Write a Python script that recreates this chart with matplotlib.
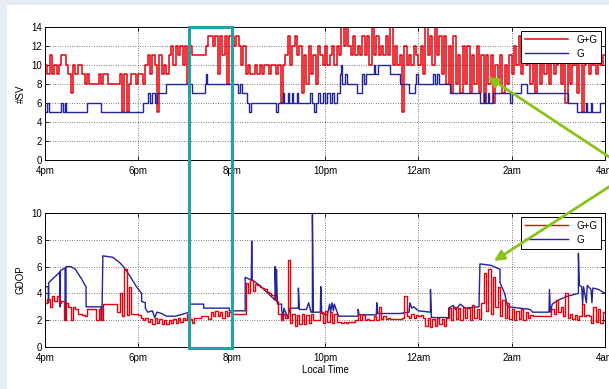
import numpy as np
import matplotlib
matplotlib.use("Agg")
import matplotlib.pyplot as plt
from matplotlib.patches import Rectangle, FancyArrowPatch

plt.rcParams["font.family"] = ["Liberation Sans", "DejaVu Sans"]

# time axis: hours after 4pm, red series sampled every 3 minutes
hour_ticks = [0, 2, 4, 6, 8, 10, 12]
hour_labels = ["4pm", "6pm", "8pm", "10pm", "12am", "2am", "4am"]
step_h = 0.05

# number of satellites, G+G (GPS+GLONASS)
sv_gg = [
    10, 9, 11, 9, 10, 9, 10, 11, 11, 10, 9, 7, 10, 9, 10, 10, 9, 8, 9, 8,
    8, 8, 8, 9, 8, 9, 9, 8, 8, 8, 8, 8, 9, 5, 9, 5, 8, 9, 9, 8,
    9, 9, 8, 10, 11, 9, 11, 10, 5, 11, 9, 10, 9, 11, 12, 10, 12, 11, 12, 10,
    12, 8, 12, 11, 11, 11, 11, 11, 11, 12, 13, 13, 12, 13, 9, 13, 11, 13, 8, 13,
    13, 12, 13, 12, 10, 12, 9, 10, 9, 9, 10, 9, 10, 9, 10, 10, 9, 10, 10, 9,
    10, 6, 10, 11, 13, 10, 12, 13, 11, 12, 7, 11, 8, 12, 9, 11, 8, 12, 11, 10,
    12, 10, 11, 12, 10, 12, 11, 14, 12, 14, 12, 11, 13, 11, 12, 11, 13, 11, 13, 10,
    14, 11, 13, 11, 12, 11, 13, 11, 14, 10, 12, 10, 11, 5, 12, 10, 11, 10, 12, 11,
    10, 12, 9, 14, 11, 13, 10, 14, 11, 13, 9, 13, 8, 12, 7, 13, 8, 11, 7, 12,
    8, 12, 7, 11, 8, 12, 7, 11, 6, 11, 8, 11, 6, 10, 8, 11, 7, 10, 8, 11,
    9, 12, 10, 13, 9, 12, 10, 11, 8, 11, 7, 11, 8, 11, 9, 11, 8, 11, 9, 10,
    11, 8, 11, 6, 12, 8, 10, 12, 7, 11, 5, 10, 11, 9, 11, 10, 9, 11, 10, 11,
]

# number of satellites, G (GPS only), step breakpoints
sv_g_t = [0.0, 0.05, 0.09, 0.34, 0.38, 0.43, 0.46, 0.89, 1.19, 2.1, 2.2, 2.25,
          2.3, 2.35, 2.4, 2.6, 3.14, 3.43, 3.45, 3.47, 4.14, 4.18, 4.22, 4.32,
          4.38, 4.41, 4.95, 5.0, 5.1, 5.12, 5.2, 5.22, 5.3, 5.32, 5.4, 5.42,
          5.68, 5.72, 5.76, 5.8, 5.86, 5.9, 5.95, 6.0, 6.05, 6.1, 6.15, 6.2,
          6.25, 6.32, 6.35, 6.37, 6.42, 6.48, 6.68, 6.79, 6.84, 6.88, 7.05, 7.08,
          7.14, 7.39, 7.61, 7.79, 7.93, 7.96, 8.0, 8.32, 8.36, 8.4, 8.44, 8.68,
          9.32, 9.4, 9.42, 9.5, 9.52, 9.6, 9.96, 10.0, 10.21, 10.32, 11.2, 11.4,
          11.6, 11.62, 11.7, 11.72, 11.9, 12.0]
sv_g_v = [5, 6, 5, 6, 5, 6, 5, 6, 5, 6, 7, 6,
          7, 6, 7, 8, 7, 8, 9, 8, 7, 8, 7, 6,
          5, 6, 5, 6, 7, 6, 7, 6, 7, 6, 7, 6,
          7, 6, 5, 6, 7, 6, 7, 6, 7, 6, 7, 6,
          7, 9, 10, 8, 9, 8, 7, 9, 8, 9, 10, 9,
          10, 9, 8, 7, 8, 9, 8, 9, 8, 9, 8, 7,
          6, 7, 6, 7, 6, 7, 6, 7, 8, 7, 6, 5,
          6, 5, 6, 5, 6, 6]

# GDOP, G+G
gdop_gg = [
    3.3, 3.6, 3.0, 3.8, 3.4, 3.8, 3.3, 3.4, 2.0, 3.3, 3.0, 2.0, 3.0, 2.8, 2.5, 2.5, 2.4, 2.3, 2.8, 2.8,
    2.8, 2.8, 2.0, 2.8, 2.0, 3.2, 3.2, 3.2, 3.2, 3.2, 3.2, 2.6, 4.0, 2.3, 5.8, 2.4, 4.5, 2.5, 2.5, 2.5,
    2.4, 2.2, 2.0, 2.2, 1.9, 2.1, 1.7, 2.2, 1.8, 2.1, 1.7, 2.0, 1.7, 2.0, 1.8, 2.1, 1.8, 2.2, 1.9, 2.2,
    2.0, 2.5, 2.1, 1.8, 2.2, 2.2, 2.2, 2.3, 2.3, 2.3, 2.1, 2.6, 2.3, 2.7, 2.3, 2.6, 2.2, 2.7, 2.3, 2.6,
    2.5, 2.5, 2.5, 2.5, 2.5, 2.5, 4.8, 4.0, 5.0, 4.2, 4.7, 4.6, 4.5, 4.4, 4.3, 4.1, 4.0, 3.9, 3.7, 3.4,
    2.5, 2.0, 2.5, 2.2, 6.5, 1.8, 2.5, 1.6, 2.4, 1.7, 2.5, 1.7, 2.4, 1.8, 2.5, 2.0, 2.0, 2.0, 2.6, 1.8,
    2.7, 1.9, 2.6, 1.8, 2.5, 1.9, 1.9, 1.8, 1.9, 1.8, 1.9, 1.9, 1.9, 2.0, 2.5, 2.0, 2.4, 2.0, 2.1, 2.0,
    2.0, 2.3, 2.0, 3.0, 2.1, 2.3, 2.1, 2.2, 2.1, 2.1, 2.1, 2.1, 2.1, 2.2, 3.8, 2.3, 2.2, 2.5, 2.2, 2.4,
    2.3, 2.4, 2.2, 1.6, 2.2, 1.5, 2.1, 1.6, 2.2, 1.7, 2.1, 1.6, 2.2, 2.9, 2.0, 3.0, 2.1, 2.9, 2.0, 3.0,
    2.2, 2.9, 2.0, 3.1, 2.2, 2.8, 2.1, 3.3, 5.5, 2.7, 5.8, 2.5, 5.2, 3.0, 4.5, 2.3, 3.5, 2.2, 3.3, 2.1,
    2.8, 2.0, 2.7, 2.1, 2.8, 2.0, 2.6, 2.2, 2.4, 2.3, 2.3, 2.3, 2.3, 2.3, 2.3, 2.3, 2.3, 2.8, 2.5, 3.5,
    2.6, 3.0, 2.3, 4.0, 2.2, 2.5, 2.1, 2.4, 2.0, 2.3, 3.2, 2.3, 2.4, 2.3, 1.8, 3.0, 1.9, 2.8, 1.8, 2.6,
]

# GDOP, G only (line through breakpoints, repeated times are jumps)
gdop_g_t = [0.0, 0.07, 0.07, 0.08, 0.08, 0.2, 0.32, 0.32, 0.33, 0.33, 0.43, 0.43,
            0.45, 0.45, 0.55, 0.65, 0.78, 0.86, 0.88, 0.88, 1.2, 1.2, 1.22, 1.24,
            1.45, 1.6, 1.68, 1.82, 1.96, 2.07, 2.07, 2.15, 2.15, 2.2, 2.3, 2.35,
            2.4, 2.5, 2.6, 2.8, 3.0, 3.1, 3.1, 3.4, 3.4, 3.95, 3.95, 4.29,
            4.29, 4.42, 4.43, 4.44, 4.6, 4.75, 4.9, 4.93, 4.93, 4.95, 4.96, 4.98,
            5.07, 5.07, 5.1, 5.12, 5.2, 5.25, 5.43, 5.43, 5.45, 5.6, 5.65, 5.7,
            5.73, 5.73, 5.75, 5.9, 5.91, 5.93, 6.05, 6.1, 6.12, 6.15, 6.18, 6.2,
            6.29, 6.71, 6.71, 6.73, 7.1, 7.11, 7.13, 7.6, 7.8, 7.82, 7.86, 7.9,
            8.0, 8.26, 8.26, 8.28, 8.65, 8.65, 8.75, 8.8, 8.9, 9.0, 9.3, 9.32,
            9.55, 9.75, 9.75, 9.85, 9.9, 9.93, 10.4, 10.45, 10.8, 10.81, 10.83, 10.87,
            11.0, 11.2, 11.43, 11.43, 11.45, 11.5, 11.52, 11.54, 11.6, 11.62, 11.7, 11.72,
            11.74, 11.86, 12.0]
gdop_g_v = [4.5, 4.5, 3.3, 3.3, 4.8, 5.2, 5.6, 3.0, 3.0, 5.7, 5.9, 2.0,
            2.0, 6.0, 6.0, 5.8, 5.1, 4.6, 4.5, 3.0, 3.0, 2.0, 2.0, 6.8,
            6.7, 6.3, 6.0, 5.3, 4.5, 4.0, 3.4, 3.3, 2.9, 2.6, 2.7, 2.2,
            2.6, 2.5, 2.3, 2.3, 2.5, 2.6, 3.2, 3.2, 2.9, 2.9, 2.7, 2.7,
            5.2, 5.0, 7.9, 5.0, 4.6, 4.1, 3.6, 3.5, 6.0, 3.5, 5.8, 3.2,
            3.2, 2.9, 2.0, 2.9, 2.2, 2.9, 2.9, 4.4, 2.8, 2.8, 3.3, 2.6,
            2.6, 9.9, 2.6, 2.6, 4.5, 2.5, 2.4, 3.2, 2.6, 3.3, 2.7, 3.2,
            2.3, 2.3, 2.8, 2.4, 2.4, 3.3, 2.5, 2.5, 2.6, 3.3, 2.9, 3.0,
            2.7, 2.6, 4.3, 2.2, 2.2, 2.9, 3.1, 2.8, 3.2, 2.9, 3.0, 6.2,
            6.1, 5.8, 4.8, 4.0, 3.2, 3.0, 2.8, 2.6, 2.6, 4.3, 2.6, 3.2,
            3.5, 3.8, 4.0, 7.0, 4.6, 4.5, 3.2, 4.5, 3.3, 4.6, 4.3, 3.3,
            4.4, 4.3, 4.0]

red = "#e8000c"
blue = "#23239a"

fig = plt.figure(figsize=(6.09, 3.89), dpi=100, facecolor="#e7ebf4")
fig.add_artist(Rectangle((7 / 609, 0), 1, (389 - 5) / 389, transform=fig.transFigure,
                         facecolor="white", edgecolor="none", zorder=0))

ax1 = fig.add_axes([45 / 609, (389 - 160) / 389, 560 / 609, 133 / 389])
ax2 = fig.add_axes([45 / 609, (389 - 347) / 389, 560 / 609, 134 / 389])

t_red = np.append(np.arange(len(sv_gg)) * step_h, 12)

ax1.step(t_red, sv_gg + [sv_gg[-1]], where="post", color=red, lw=1.1, label="G+G")
ax1.step(sv_g_t, sv_g_v, where="post", color=blue, lw=1.0, label="G")
ax1.set_ylim(0, 14)
ax1.set_yticks(range(0, 15, 2))
ax1.set_ylabel("#SV", fontsize=7, labelpad=4)

ax2.plot(gdop_g_t, gdop_g_v, color=blue, lw=1.0, label="G")
ax2.step(t_red, gdop_gg + [gdop_gg[-1]], where="post", color=red, lw=1.0, label="G+G")
ax2.set_ylim(0, 10)
ax2.set_yticks(range(0, 11, 2))
ax2.set_ylabel("GDOP", fontsize=7, labelpad=4)
ax2.set_xlabel("Local Time", fontsize=7, labelpad=1)

for ax in (ax1, ax2):
    ax.set_xlim(0, 12)
    ax.set_xticks(hour_ticks)
    ax.set_xticklabels(hour_labels)
    ax.tick_params(direction="in", labelsize=7, length=3, width=0.6,
                   top=True, right=True)
    ax.tick_params(axis="x", pad=4.5)
    ax.tick_params(axis="y", pad=2)
    ax.grid(True, color="black", linestyle=(0, (1, 2.5)), linewidth=0.5)
    for s in ax.spines.values():
        s.set_linewidth(0.7)
    h, l = ax.get_legend_handles_labels()
    order = [l.index("G+G"), l.index("G")]
    leg = ax.legend([h[i] for i in order], [l[i] for i in order], loc="upper right",
                    fontsize=7, fancybox=False, edgecolor="black", framealpha=1,
                    borderaxespad=0.4, handlelength=4.5, labelspacing=0.4)
    leg.get_frame().set_linewidth(0.7)

# highlight box around 7:15pm-8pm
fig.add_artist(Rectangle((189 / 609, (389 - 348) / 389), 43 / 609, 321 / 389,
                         transform=fig.transFigure, facecolor="none",
                         edgecolor="#22a3a3", lw=2.2, zorder=10))

# green arrows from the right margin
for tip in [(488, 77), (494, 261)]:
    fig.add_artist(FancyArrowPatch(
        (632, 389 - 172), (tip[0], 389 - tip[1]), transform=None,
        arrowstyle="-|>,head_length=6,head_width=3", color="#8cc21c",
        lw=2, shrinkA=0, shrinkB=0, zorder=11))

fig.savefig("out.png", dpi=100, facecolor=fig.get_facecolor())
